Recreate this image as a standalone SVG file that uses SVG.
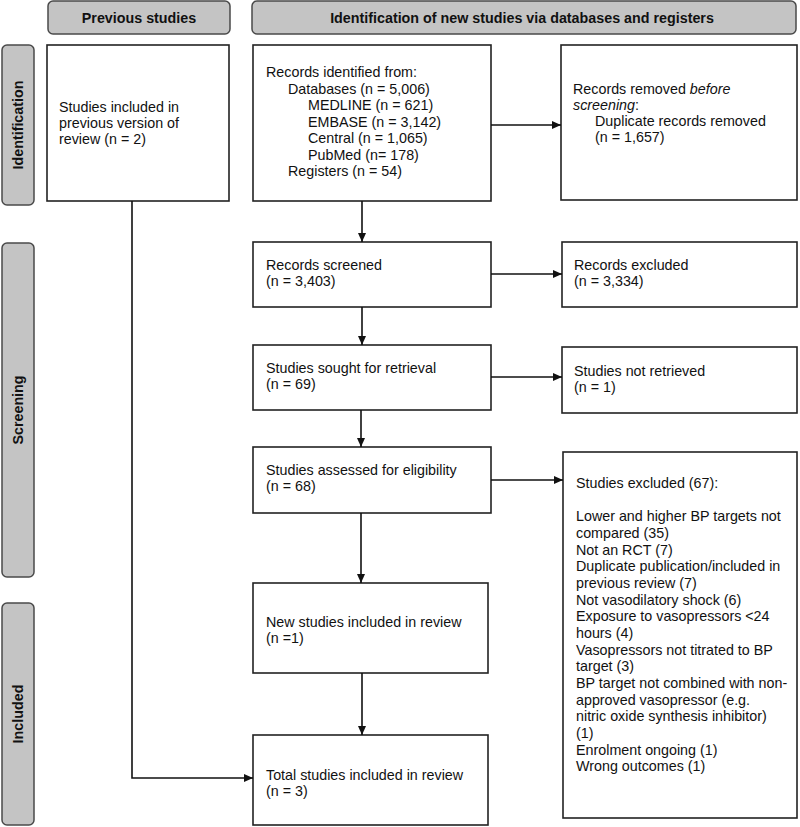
<svg xmlns="http://www.w3.org/2000/svg" width="800" height="827" viewBox="0 0 800 827">
<defs>
<marker id="ah" markerWidth="10" markerHeight="10" refX="9" refY="5" orient="auto" markerUnits="userSpaceOnUse">
<path d="M0,1 L9,5 L0,9 Z" fill="#111"/>
</marker>
<style>
.hdr{fill:#c4c4c4;stroke:#4a4a4a;stroke-width:1.5}
.box{fill:#fff;stroke:#222;stroke-width:1.6}
.t{font-family:"Liberation Sans",Arial,sans-serif;font-size:14.3px;fill:#111}
.b{font-family:"Liberation Sans",Arial,sans-serif;font-size:14.3px;font-weight:bold;fill:#111}
.con{fill:none;stroke:#111;stroke-width:1.6}
</style>
</defs>
<rect width="800" height="827" fill="#fff"/>

<g id="hdr-previous"><rect class="hdr" x="48" y="1" width="182" height="33" rx="5"/><text class="b" x="139" y="23" text-anchor="middle">Previous studies</text></g>
<g id="hdr-new"><rect class="hdr" x="252" y="1" width="544" height="33" rx="5"/><text class="b" x="522" y="23" text-anchor="middle">Identification of new studies via databases and registers</text></g>

<g id="side-identification"><rect class="hdr" x="2" y="45" width="32" height="160" rx="5"/><text class="b" transform="translate(23,125) rotate(-90)" text-anchor="middle">Identification</text></g>
<g id="side-screening"><rect class="hdr" x="2" y="243" width="32" height="334" rx="5"/><text class="b" transform="translate(23,410) rotate(-90)" text-anchor="middle">Screening</text></g>
<g id="side-included"><rect class="hdr" x="2" y="603" width="32" height="222" rx="5"/><text class="b" transform="translate(23,714) rotate(-90)" text-anchor="middle">Included</text></g>

<g id="previous"><rect class="box" x="47" y="45" width="182" height="156"/>
<text class="t" x="59" y="112">Studies included in</text>
<text class="t" x="59" y="128">previous version of</text>
<text class="t" x="59" y="144">review (n = 2)</text></g>

<g id="identified"><rect class="box" x="253" y="45" width="238" height="156"/>
<text class="t" x="266" y="77">Records identified from:</text>
<text class="t" x="288" y="93.5">Databases (n = 5,006)</text>
<text class="t" x="308" y="110">MEDLINE (n = 621)</text>
<text class="t" x="308" y="126.5">EMBASE (n = 3,142)</text>
<text class="t" x="308" y="143">Central (n = 1,065)</text>
<text class="t" x="308" y="159.5">PubMed (n= 178)</text>
<text class="t" x="288" y="176">Registers (n = 54)</text></g>

<g id="removed"><rect class="box" x="561" y="45" width="236" height="155"/>
<text class="t" x="573" y="94">Records removed <tspan font-style="italic">before</tspan></text>
<text class="t" x="573" y="110"><tspan font-style="italic">screening</tspan>:</text>
<text class="t" x="595" y="126">Duplicate records removed</text>
<text class="t" x="595" y="142">(n = 1,657)</text></g>

<g id="screened"><rect class="box" x="253" y="242" width="238" height="65"/>
<text class="t" x="266" y="270">Records screened</text>
<text class="t" x="266" y="286">(n = 3,403)</text></g>

<g id="excluded"><rect class="box" x="562" y="242" width="235" height="65"/>
<text class="t" x="574" y="270">Records excluded</text>
<text class="t" x="574" y="286">(n = 3,334)</text></g>

<g id="sought"><rect class="box" x="253" y="345" width="238" height="65"/>
<text class="t" x="266" y="373">Studies sought for retrieval</text>
<text class="t" x="266" y="389">(n = 69)</text></g>

<g id="notretrieved"><rect class="box" x="562" y="347" width="235" height="66"/>
<text class="t" x="574" y="376">Studies not retrieved</text>
<text class="t" x="574" y="392">(n = 1)</text></g>

<g id="assessed"><rect class="box" x="253" y="447" width="238" height="66"/>
<text class="t" x="266" y="475">Studies assessed for eligibility</text>
<text class="t" x="266" y="491">(n = 68)</text></g>

<g id="studiesexcluded"><rect class="box" x="563" y="452" width="234" height="366"/>
<text class="t" x="576" y="488">Studies excluded (67):</text>
<text class="t" x="576" y="521.3">Lower and higher BP targets not</text>
<text class="t" x="576" y="538">compared (35)</text>
<text class="t" x="576" y="554.6">Not an RCT (7)</text>
<text class="t" x="576" y="571.3">Duplicate publication/included in</text>
<text class="t" x="576" y="588">previous review (7)</text>
<text class="t" x="576" y="604.6">Not vasodilatory shock (6)</text>
<text class="t" x="576" y="621.3">Exposure to vasopressors &lt;24</text>
<text class="t" x="576" y="638">hours (4)</text>
<text class="t" x="576" y="654.6">Vasopressors not titrated to BP</text>
<text class="t" x="576" y="671.3">target (3)</text>
<text class="t" x="576" y="688">BP target not combined with non-</text>
<text class="t" x="576" y="704.6">approved vasopressor (e.g.</text>
<text class="t" x="576" y="721.3">nitric oxide synthesis inhibitor)</text>
<text class="t" x="576" y="738">(1)</text>
<text class="t" x="576" y="754.6">Enrolment ongoing (1)</text>
<text class="t" x="576" y="771.3">Wrong outcomes (1)</text></g>

<g id="newincluded"><rect class="box" x="253" y="583" width="235" height="90"/>
<text class="t" x="266" y="627">New studies included in review</text>
<text class="t" x="266" y="643">(n =1)</text></g>

<g id="total"><rect class="box" x="253" y="735" width="235" height="90"/>
<text class="t" x="266" y="780">Total studies included in review</text>
<text class="t" x="266" y="796">(n = 3)</text></g>

<g id="connectors">
<line class="con" x1="491" y1="125" x2="561" y2="125" marker-end="url(#ah)"/>
<line class="con" x1="362" y1="201" x2="362" y2="242" marker-end="url(#ah)"/>
<line class="con" x1="491" y1="274" x2="562" y2="274" marker-end="url(#ah)"/>
<line class="con" x1="362" y1="307" x2="362" y2="345" marker-end="url(#ah)"/>
<line class="con" x1="491" y1="377" x2="562" y2="377" marker-end="url(#ah)"/>
<line class="con" x1="361" y1="410" x2="361" y2="447" marker-end="url(#ah)"/>
<line class="con" x1="491" y1="480" x2="563" y2="480" marker-end="url(#ah)"/>
<line class="con" x1="361" y1="513" x2="361" y2="583" marker-end="url(#ah)"/>
<line class="con" x1="362" y1="673" x2="362" y2="735" marker-end="url(#ah)"/>
<polyline class="con" points="132,201 132,778 253,778" marker-end="url(#ah)"/>
</g>
</svg>
